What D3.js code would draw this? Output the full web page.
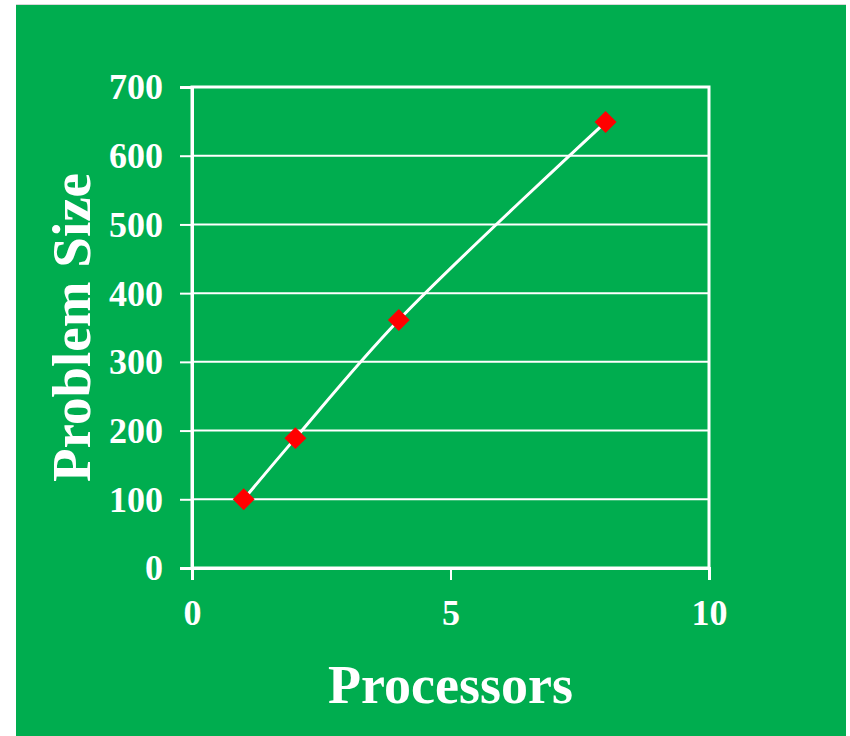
<!DOCTYPE html>
<html>
<head>
<meta charset="utf-8">
<script src="https://cdn.jsdelivr.net/npm/d3@7"></script>
<style>
  html, body { margin: 0; padding: 0; background: #ffffff; }
  svg { display: block; }
  text { font-family: "Liberation Serif", "Times New Roman", serif; font-weight: bold; fill: #ffffff; }
</style>
</head>
<body>
<script>
// Problem size needed per processor count
const processors = [1, 2, 4, 8];
const problemSize = [100, 189, 361, 649];
const xTicks = [0, 5, 10];
const yTicks = [0, 100, 200, 300, 400, 500, 600, 700];
const xTitle = "Processors";
const yTitle = "Problem Size";

const W = 850, H = 736;
const bg = "#00ad4f";
const plot = { left: 192, right: 709, top: 87, bottom: 568 };

const svg = d3.select("body").append("svg")
  .attr("width", W).attr("height", H);

svg.append("rect")
  .attr("x", 16).attr("y", 5).attr("width", 830).attr("height", H - 5)
  .attr("fill", bg);
svg.append("line")
  .attr("x1", 16).attr("x2", 846).attr("y1", 4.5).attr("y2", 4.5)
  .attr("stroke", "#d8d8d8").attr("stroke-width", 1);

const x = d3.scaleLinear().domain([0, 10]).range([plot.left, plot.right]);
const y = d3.scaleLinear().domain([0, 700]).range([plot.bottom, plot.top]);

// Horizontal gridlines
svg.append("g")
  .selectAll("line")
  .data(yTicks.filter(v => v > 0 && v < 700))
  .join("line")
  .attr("x1", plot.left).attr("x2", plot.right)
  .attr("y1", d => y(d)).attr("y2", d => y(d))
  .attr("stroke", "#ffffff").attr("stroke-width", 2);

// Plot frame
svg.append("rect")
  .attr("x", plot.left).attr("y", plot.top)
  .attr("width", plot.right - plot.left).attr("height", plot.bottom - plot.top)
  .attr("fill", "none").attr("stroke", "#ffffff").attr("stroke-width", 3);

// Axes
const yAxis = d3.axisLeft(y).tickValues(yTicks).tickSize(12).tickPadding(17);
const xAxis = d3.axisBottom(x).tickValues(xTicks).tickSize(12).tickPadding(19);

const gy = svg.append("g").attr("transform", `translate(${plot.left},0)`).call(yAxis);
const gx = svg.append("g").attr("transform", `translate(0,${plot.bottom})`).call(xAxis);

[gy, gx].forEach(g => {
  g.select(".domain").attr("stroke", "#ffffff").attr("stroke-width", 3);
  g.selectAll(".tick line").attr("stroke", "#ffffff").attr("stroke-width", 2);
  g.selectAll(".tick text")
    .attr("fill", "#ffffff")
    .style("font-family", "'Liberation Serif', 'Times New Roman', serif")
    .style("font-weight", "bold")
    .style("font-size", "36px");
});
gy.selectAll(".tick text").attr("dy", "0.33em");
gx.selectAll(".tick text").attr("dy", "0.71em");

// Axis titles
svg.append("text")
  .attr("x", (plot.left + plot.right) / 2).attr("y", 703)
  .attr("text-anchor", "middle")
  .style("font-size", "54px")
  .text(xTitle);

svg.append("text")
  .attr("transform", `translate(90,${(plot.top + plot.bottom) / 2}) rotate(-90)`)
  .attr("text-anchor", "middle")
  .style("font-size", "55px")
  .text(yTitle);

// Smoothed series line
const data = processors.map((p, i) => ({ p, v: problemSize[i] }));
const line = d3.line()
  .x(d => x(d.p)).y(d => y(d.v))
  .curve(d3.curveCatmullRom.alpha(0.5));

svg.append("path")
  .datum(data)
  .attr("d", line)
  .attr("fill", "none")
  .attr("stroke", "#ffffff")
  .attr("stroke-width", 3);

// Diamond markers
svg.append("g")
  .selectAll("path")
  .data(data)
  .join("path")
  .attr("d", d3.symbol().type(d3.symbolSquare).size(240))
  .attr("transform", d => `translate(${x(d.p)},${y(d.v)}) rotate(45)`)
  .attr("fill", "#ff0000");
</script>
</body>
</html>
